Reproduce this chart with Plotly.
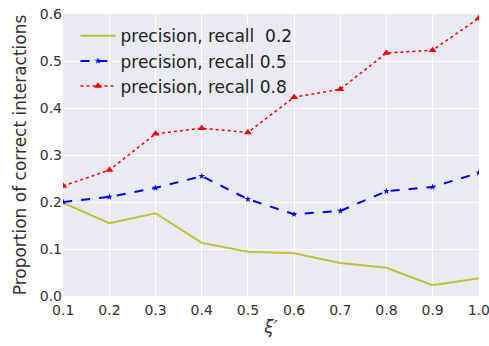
import plotly.graph_objects as go

xi = [0.1, 0.2, 0.3, 0.4, 0.5, 0.6, 0.7, 0.8, 0.9, 1.0]
recall_02 = [0.198, 0.155, 0.176, 0.113, 0.094, 0.091, 0.070, 0.060, 0.023, 0.038]
recall_05 = [0.200, 0.211, 0.230, 0.255, 0.206, 0.174, 0.181, 0.223, 0.232, 0.262]
recall_08 = [0.234, 0.268, 0.345, 0.357, 0.348, 0.423, 0.440, 0.517, 0.523, 0.591]
names = ["precision, recall\u00a0\u00a00.2", "precision, recall 0.5", "precision, recall 0.8"]
x_ticks = [0.1, 0.2, 0.3, 0.4, 0.5, 0.6, 0.7, 0.8, 0.9, 1.0]
y_ticks = [0.0, 0.1, 0.2, 0.3, 0.4, 0.5, 0.6]

fig = go.Figure()
fig.add_trace(go.Scatter(x=xi, y=recall_02, name=names[0], mode="lines",
                         line=dict(color="#C0C03A", width=2)))
fig.add_trace(go.Scatter(x=xi, y=recall_05, name=names[1], mode="lines+markers",
                         line=dict(color="#0000FF", width=2, dash="dash"),
                         marker=dict(symbol="star", size=5, color="#0000FF")))
fig.add_trace(go.Scatter(x=xi, y=recall_08, name=names[2], mode="lines+markers",
                         line=dict(color="#FF0000", width=1.5, dash="dot"),
                         marker=dict(symbol="triangle-up", size=7, color="#FF0000")))

font = "DejaVu Sans"
fig.update_layout(
    width=489, height=346,
    margin=dict(l=63, r=10, t=14, b=50, autoexpand=False),
    paper_bgcolor="white", plot_bgcolor="#EAEAF2",
    font=dict(family=font, size=14, color="#333333"),
    showlegend=True,
    legend=dict(x=0.03, y=0.985, xanchor="left", yanchor="top",
                bgcolor="rgba(0,0,0,0)", font=dict(size=17, color="#222222"),
                itemwidth=35, tracegroupgap=0),
)
fig.update_xaxes(range=[0.0995, 1.0005], tickvals=x_ticks, ticktext=[f"{v:.1f}" for v in x_ticks],
                 automargin=False, ticklabeloverflow="allow", ticklabelstandoff=4,
                 showgrid=True, gridcolor="white", gridwidth=1.2, zeroline=False,
                 showline=False, ticks="", tickfont=dict(size=14, color="#333333"),
                 title=dict(text="<i>ξ′</i>", font=dict(size=17, color="#333333"), standoff=4))
fig.update_yaxes(range=[0.0, 0.6], tickvals=y_ticks, ticktext=[f"{v:.1f}" for v in y_ticks],
                 automargin=False, ticklabeloverflow="allow",
                 showgrid=True, gridcolor="white", gridwidth=1.2, zeroline=False,
                 showline=False, ticks="", tickfont=dict(size=14, color="#333333"),
                 title=dict(text="Proportion of correct interactions", font=dict(size=17, color="#333333"), standoff=8))

fig.write_html("out.html", config={"displayModeBar": False},
               post_script="document.body.style.margin='0';document.body.style.overflow='hidden';")
